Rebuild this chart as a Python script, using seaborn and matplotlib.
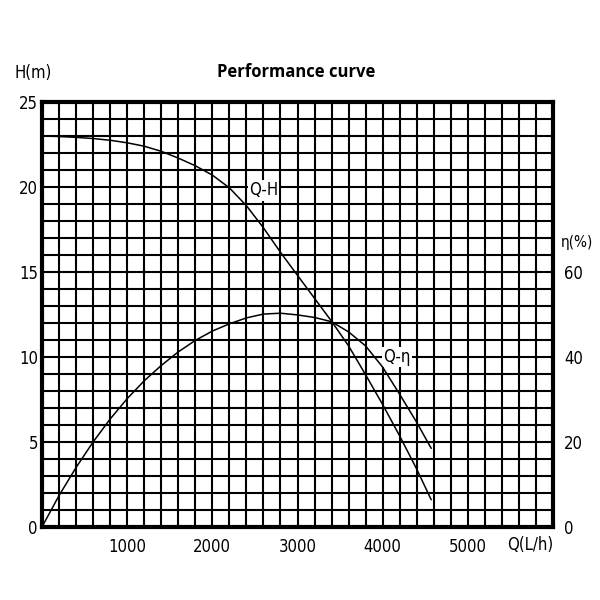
import matplotlib
matplotlib.use("Agg")
import matplotlib.pyplot as plt
from matplotlib.ticker import MultipleLocator, FixedLocator
import seaborn as sns

# -------------------------
# Data
# -------------------------
q_head = [0, 200, 400, 600, 800, 1000, 1200, 1400, 1600, 1800, 2000, 2200,
          2400, 2600, 2800, 3000, 3200, 3400, 3600, 3800, 4000, 4200, 4400, 4570]
head = [23.0, 22.97, 22.92, 22.85, 22.75, 22.6, 22.4, 22.1, 21.7, 21.25, 20.7,
        19.95, 18.9, 17.6, 16.16, 14.8, 13.45, 12.1, 10.65, 8.95, 7.2, 5.35,
        3.4, 1.6]

q_eff = [0, 200, 400, 600, 800, 1000, 1200, 1400, 1600, 1800, 2000, 2200,
         2400, 2600, 2800, 3000, 3200, 3400, 3600, 3800, 4000, 4200, 4400, 4570]
eff = [0, 7.4, 14.0, 20.0, 25.4, 30.2, 34.4, 38.0, 41.2, 43.9, 46.1, 47.8,
       49.2, 50.1, 50.3, 49.9, 49.3, 48.3, 45.9, 42.6, 37.6, 31.2, 24.6, 18.5]

x_ticks = [1000, 2000, 3000, 4000, 5000]
h_ticks = [0, 5, 10, 15, 20, 25]
eff_ticks = [0, 20, 40, 60]

sns.set_style("white")
plt.rcParams['font.family'] = ['DejaVu Sans']
plt.rcParams['font.stretch'] = 'condensed'
plt.rcParams['text.color'] = 'black'
plt.rcParams['xtick.color'] = 'black'
plt.rcParams['ytick.color'] = 'black'

fig = plt.figure(figsize=(6, 6), dpi=100)
ax = fig.add_axes([0.07, 0.1217, 0.8517, 0.7083])

# grid: 200 L/h by 1 m
ax.set_xlim(0, 6000)
ax.set_ylim(0, 25)
ax.xaxis.set_minor_locator(MultipleLocator(200))
ax.yaxis.set_minor_locator(MultipleLocator(1))
ax.xaxis.set_major_locator(FixedLocator(x_ticks))
ax.yaxis.set_major_locator(FixedLocator(h_ticks))
ax.grid(which='both', color='black', linewidth=1.5)
ax.set_axisbelow(True)
ax.tick_params(which='both', length=0)
ax.tick_params(axis='x', pad=8, labelsize=12)
ax.tick_params(axis='y', pad=3, labelsize=12)
for s in ax.spines.values():
    s.set_color('black')
    s.set_linewidth(3)

sns.lineplot(x=q_head, y=head, ax=ax, color='black', linewidth=1.1,
             sort=False, estimator=None)
ax.set_xlabel('')
ax.set_ylabel('')

ax2 = ax.twinx()
ax2.set_ylim(0, 100)
sns.lineplot(x=q_eff, y=eff, ax=ax2, color='black', linewidth=1.1,
             sort=False, estimator=None)
ax2.set_yticks(eff_ticks)
ax2.tick_params(length=0, pad=8, labelsize=12)
ax2.set_ylabel('')
for s in ax2.spines.values():
    s.set_visible(False)
ax2.grid(False)

# curve labels
box = dict(facecolor='white', edgecolor='none', pad=1)
ax.text(2600, 19.8, 'Q-H', ha='center', va='center', fontsize=12, bbox=box)
ax.text(4170, 10.0, 'Q-η', ha='center', va='center', fontsize=12, bbox=box)

# axis captions
fig.text(33 / 600, 1 - 73 / 600, 'H(m)', ha='center', va='center', fontsize=12)
fig.text(577 / 600, 1 - 242 / 600, 'η(%)', ha='center', va='center', fontsize=11)
fig.text(530 / 600, 1 - 545 / 600, 'Q(L/h)', ha='center', va='center', fontsize=12)
fig.text(296 / 600, 1 - 72 / 600, 'Performance curve', ha='center', va='center',
         fontsize=12, fontweight='bold', fontstretch='normal',
         family=['Open Sans', 'DejaVu Sans'])

fig.savefig('out.png', dpi=100, facecolor='white')
